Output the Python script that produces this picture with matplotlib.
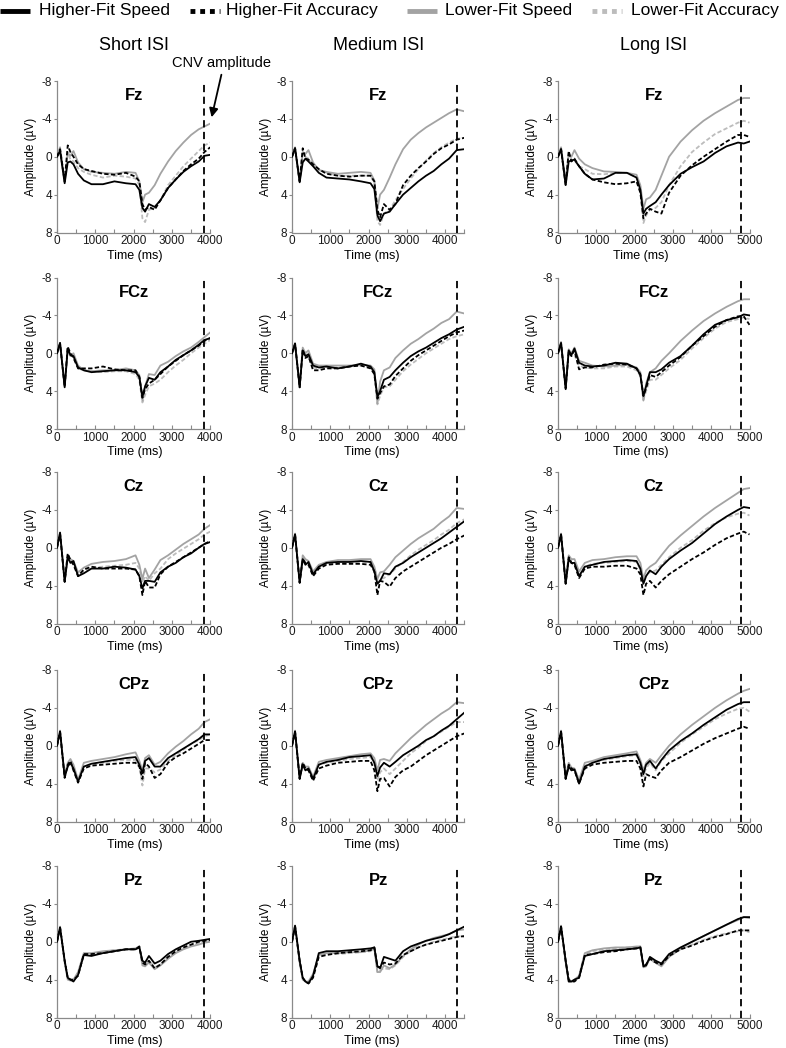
import matplotlib
matplotlib.use('Agg')
import matplotlib.pyplot as plt
from matplotlib.lines import Line2D
from matplotlib.ticker import MultipleLocator

plt.rcParams['font.family'] = ['Liberation Sans', 'DejaVu Sans']
plt.rcParams['axes.unicode_minus'] = False

# ---------------- data ----------------
columns = ['Short ISI', 'Medium ISI', 'Long ISI']
electrodes = ['Fz', 'FCz', 'Cz', 'CPz', 'Pz']
series_names = ['Higher-Fit Speed', 'Higher-Fit Accuracy', 'Lower-Fit Speed', 'Lower-Fit Accuracy']
x_ticks_max = [4000, 4000, 5000]
x_limits = [4000, 4500, 5000]
cnv_time = [3830, 4300, 4780]

t_short = [0, 80, 200, 280, 350, 430, 550, 700, 900, 1200, 1500, 1800, 2050, 2150, 2230, 2300, 2400,
           2550, 2700, 2900, 3100, 3300, 3500, 3700, 3850, 4000]
t_medium = [0, 80, 200, 280, 350, 430, 550, 700, 900, 1200, 1500, 1800, 2050, 2150, 2230, 2300, 2400,
            2550, 2700, 2900, 3100, 3300, 3500, 3700, 3900, 4100, 4300, 4500]
t_long = [0, 80, 200, 280, 350, 430, 550, 700, 900, 1200, 1500, 1800, 2050, 2150, 2230, 2300, 2400,
          2550, 2700, 2900, 3200, 3500, 3800, 4100, 4400, 4700, 4850, 5000]

# Fz
fz_short_hs = [0, -0.6, 2.8, 0.6, 0.5, 0.8, 1.8, 2.5, 2.9, 2.9, 2.6, 2.8, 2.9, 3.5, 5.4, 5.8, 5.0, 5.3, 4.6, 3.3, 2.4, 1.6, 1.0, 0.5, -0.1, -0.2]
fz_short_ha = [0, -0.8, 2.6, -1.2, -0.5, 0.0, 0.8, 1.3, 1.5, 1.8, 1.9, 1.7, 2.1, 2.6, 5.0, 5.6, 5.3, 5.6, 4.6, 3.3, 2.4, 1.5, 0.8, 0.2, -0.5, -1.0]
fz_short_ls = [0, -1.0, 2.6, -0.4, -0.1, -0.6, 0.6, 1.3, 1.6, 1.7, 1.8, 1.6, 1.7, 2.6, 4.8, 4.0, 3.8, 3.0, 1.8, 0.5, -0.6, -1.5, -2.3, -2.9, -3.2, -3.5]
fz_short_la = [0, -0.8, 2.6, -0.5, 0.3, 0.5, 1.2, 1.6, 1.9, 2.2, 2.0, 2.1, 2.3, 3.0, 6.5, 6.9, 5.6, 5.4, 4.6, 3.0, 2.0, 1.0, 0.2, -0.6, -1.2, -1.5]
fz_medium_hs = [0, -0.9, 2.7, 0.6, 0.2, 0.5, 1.0, 1.7, 2.2, 2.3, 2.4, 2.6, 2.8, 3.4, 6.2, 6.8, 6.0, 5.8, 5.0, 4.0, 3.3, 2.6, 2.0, 1.5, 0.8, 0.2, -0.7, -0.8]
fz_medium_ha = [0, -0.9, 2.6, -0.9, 0.2, 0.3, 0.8, 1.3, 1.8, 2.0, 2.1, 2.0, 2.0, 2.6, 5.6, 6.4, 5.0, 5.6, 5.0, 3.0, 2.0, 1.2, 0.5, -0.3, -0.9, -1.3, -1.8, -2.0]
fz_medium_ls = [0, -1.0, 2.6, -0.5, -0.3, -0.7, 0.6, 1.4, 1.6, 1.8, 1.7, 1.6, 1.7, 2.5, 5.5, 4.0, 3.5, 2.2, 0.8, -0.8, -1.8, -2.5, -3.1, -3.6, -4.1, -4.6, -5.0, -4.8]
fz_medium_la = [0, -0.8, 2.6, -0.4, 0.0, 0.2, 0.8, 1.4, 1.7, 2.0, 2.0, 2.0, 2.0, 2.8, 6.8, 7.2, 6.0, 5.6, 4.6, 3.4, 2.3, 1.3, 0.4, -0.4, -1.0, -1.5, -1.9, -2.0]
fz_long_hs = [0, -0.8, 3.0, 0.5, 0.4, 0.3, 1.0, 1.8, 2.4, 2.3, 1.7, 1.7, 2.2, 3.5, 6.0, 5.5, 5.2, 4.8, 4.0, 3.0, 1.8, 1.1, 0.5, -0.4, -1.1, -1.5, -1.4, -1.6]
fz_long_ha = [0, -0.8, 3.0, -0.6, 0.5, 0.2, 1.0, 1.8, 2.4, 2.7, 2.9, 2.8, 2.6, 3.8, 6.5, 6.0, 5.5, 5.8, 6.0, 3.8, 2.0, 0.9, 0.0, -0.8, -1.6, -2.3, -2.3, -2.1]
fz_long_ls = [0, -1.0, 2.6, -0.3, 0.0, -0.7, 0.2, 0.8, 1.2, 1.55, 1.6, 1.7, 1.9, 3.0, 5.5, 4.5, 4.3, 3.5, 2.0, 0.0, -1.6, -2.8, -3.8, -4.6, -5.3, -6.0, -6.2, -6.2]
fz_long_la = [0, -0.8, 2.6, -0.4, 0.3, 0.4, 1.0, 1.3, 1.8, 1.85, 1.7, 1.7, 2.2, 3.2, 7.0, 6.2, 5.6, 5.4, 4.8, 3.0, 1.0, -0.5, -1.5, -2.4, -3.0, -3.6, -3.8, -3.6]

# FCz
fcz_short_hs = [0, -1.1, 3.6, -0.5, 0.2, 0.3, 1.5, 1.8, 2.0, 1.9, 1.8, 1.8, 2.0, 2.5, 4.6, 3.5, 2.6, 2.8, 2.0, 1.4, 0.7, 0.2, -0.3, -0.9, -1.4, -1.6]
fcz_short_ha = [0, -1.0, 3.5, -0.7, 0.0, 0.5, 1.6, 1.6, 1.6, 1.4, 1.7, 1.8, 1.8, 2.5, 4.7, 3.8, 3.2, 2.8, 2.2, 1.4, 0.8, 0.2, -0.3, -0.8, -1.3, -1.6]
fcz_short_ls = [0, -1.1, 3.5, -0.5, 0.3, 0.0, 1.3, 1.8, 1.9, 1.8, 1.8, 1.6, 1.8, 2.3, 5.0, 3.5, 2.2, 2.3, 1.3, 0.9, 0.3, -0.2, -0.6, -1.2, -1.7, -2.2]
fcz_short_la = [0, -0.9, 3.4, -0.3, 0.2, 0.3, 1.6, 1.8, 1.9, 2.0, 1.9, 1.9, 2.2, 2.8, 5.2, 4.4, 3.5, 3.2, 2.8, 2.0, 1.3, 0.7, 0.0, -0.6, -1.0, -1.4]
fcz_medium_hs = [0, -1.0, 3.6, -0.3, 0.3, 0.1, 1.3, 1.5, 1.4, 1.6, 1.4, 1.1, 1.4, 2.0, 4.6, 4.0, 2.8, 2.5, 1.8, 1.0, 0.3, -0.2, -0.6, -1.1, -1.6, -2.0, -2.5, -2.8]
fcz_medium_ha = [0, -1.0, 3.6, -0.4, 0.5, 0.3, 1.8, 1.8, 1.6, 1.6, 1.4, 1.3, 1.6, 2.2, 4.8, 4.2, 3.5, 3.3, 2.4, 1.6, 0.8, 0.2, -0.3, -0.8, -1.3, -1.8, -2.2, -2.4]
fcz_medium_ls = [0, -1.1, 3.5, -0.6, 0.0, -0.3, 1.1, 1.3, 1.3, 1.3, 1.3, 1.2, 1.3, 1.7, 5.3, 3.0, 1.8, 1.5, 0.5, -0.3, -1.0, -1.5, -2.1, -2.6, -3.2, -3.6, -4.4, -4.2]
fcz_medium_la = [0, -0.9, 3.4, -0.4, 0.2, 0.5, 1.5, 1.6, 1.5, 1.5, 1.4, 1.3, 1.5, 2.2, 5.4, 4.5, 3.6, 3.5, 2.8, 1.9, 1.2, 0.6, 0.0, -0.5, -1.0, -1.5, -1.8, -2.0]
fcz_long_hs = [0, -1.1, 3.8, -0.3, 0.2, -0.5, 1.0, 1.3, 1.4, 1.3, 1.0, 1.1, 1.6, 2.3, 4.5, 3.5, 2.0, 2.0, 1.7, 1.0, 0.3, -0.8, -2.0, -3.0, -3.5, -3.8, -4.1, -4.0]
fcz_long_ha = [0, -1.0, 3.7, -0.2, 0.3, -0.3, 1.7, 1.5, 1.5, 1.2, 1.1, 1.2, 1.6, 2.2, 4.5, 3.7, 2.3, 2.5, 2.0, 1.3, 0.4, -0.8, -1.8, -2.8, -3.5, -3.9, -3.9, -3.0]
fcz_long_ls = [0, -1.2, 3.5, -0.4, 0.0, -0.6, 0.8, 1.0, 1.3, 1.4, 1.3, 1.2, 1.5, 2.0, 5.0, 3.2, 2.0, 1.6, 0.8, 0.0, -1.3, -2.4, -3.4, -4.2, -4.9, -5.5, -5.7, -5.7]
fcz_long_la = [0, -1.0, 3.5, -0.4, 0.3, 0.2, 1.3, 1.5, 1.6, 1.6, 1.4, 1.4, 1.8, 2.4, 4.9, 4.0, 2.8, 2.8, 2.3, 1.6, 0.7, -0.5, -1.6, -2.6, -3.3, -3.6, -3.8, -3.6]

# Cz
cz_short_hs = [0, -1.6, 3.6, 1.0, 1.6, 1.4, 3.0, 2.7, 2.2, 2.2, 2.0, 2.1, 2.3, 3.0, 4.3, 3.5, 3.5, 3.6, 2.6, 2.0, 1.6, 1.0, 0.6, 0.0, -0.4, -0.6]
cz_short_ha = [0, -1.5, 3.6, 0.6, 1.3, 1.8, 3.0, 2.3, 2.0, 2.2, 2.2, 2.2, 2.3, 3.0, 5.0, 3.5, 4.2, 4.2, 2.8, 2.0, 1.5, 1.0, 0.5, 0.0, -0.4, -0.7]
cz_short_ls = [0, -1.6, 3.5, 0.8, 1.2, 1.4, 2.6, 2.1, 1.7, 1.5, 1.4, 1.2, 0.8, 1.8, 3.3, 2.2, 3.2, 2.3, 1.3, 0.8, 0.2, -0.4, -0.9, -1.4, -2.0, -2.4]
cz_short_la = [0, -1.5, 3.5, 0.8, 1.4, 1.6, 2.9, 2.5, 2.1, 2.0, 1.9, 1.8, 1.6, 2.2, 3.7, 3.0, 3.5, 2.7, 2.2, 1.2, 0.6, 0.1, -0.4, -0.9, -1.4, -1.7]
cz_medium_hs = [0, -1.4, 3.7, 1.2, 1.8, 1.5, 2.8, 2.0, 1.6, 1.5, 1.5, 1.4, 1.5, 2.5, 3.8, 3.5, 2.7, 2.8, 2.0, 1.6, 1.0, 0.5, 0.0, -0.5, -1.0, -1.6, -2.2, -2.8]
cz_medium_ha = [0, -1.4, 3.7, 1.2, 1.6, 1.8, 3.0, 2.2, 1.8, 1.7, 1.7, 1.7, 1.8, 2.5, 5.0, 3.5, 3.6, 4.1, 3.2, 2.5, 2.0, 1.5, 1.0, 0.5, 0.0, -0.4, -0.9, -1.3]
cz_medium_ls = [0, -1.5, 3.6, 0.8, 1.2, 1.4, 2.5, 1.8, 1.5, 1.3, 1.3, 1.2, 1.2, 2.0, 3.3, 2.6, 2.5, 1.8, 1.0, 0.3, -0.4, -1.0, -1.5, -2.0, -2.7, -3.3, -4.2, -4.1]
cz_medium_la = [0, -1.4, 3.6, 1.0, 1.5, 1.6, 2.8, 2.0, 1.7, 1.6, 1.6, 1.5, 1.5, 2.3, 3.9, 3.3, 3.2, 2.8, 2.2, 1.5, 0.8, 0.2, -0.3, -0.8, -1.4, -1.9, -2.6, -3.0]
cz_long_hs = [0, -1.4, 3.8, 1.2, 1.6, 1.6, 3.0, 2.0, 1.8, 1.5, 1.4, 1.3, 1.4, 2.2, 3.8, 3.0, 2.4, 2.8, 2.0, 1.2, 0.3, -0.5, -1.5, -2.5, -3.3, -4.0, -4.3, -4.2]
cz_long_ha = [0, -1.4, 3.8, 1.0, 1.6, 1.8, 3.2, 2.2, 2.0, 2.0, 1.9, 1.9, 2.2, 2.8, 5.0, 3.8, 3.5, 4.2, 3.5, 2.8, 2.0, 1.2, 0.5, -0.3, -1.0, -1.5, -1.7, -1.4]
cz_long_ls = [0, -1.5, 3.6, 0.8, 1.2, 1.2, 2.5, 1.6, 1.3, 1.2, 1.0, 0.9, 0.9, 1.6, 3.3, 2.4, 2.0, 1.6, 0.8, -0.2, -1.3, -2.3, -3.3, -4.2, -5.0, -5.8, -6.2, -6.3]
cz_long_la = [0, -1.4, 3.6, 1.0, 1.4, 1.6, 2.9, 2.0, 1.7, 1.6, 1.5, 1.4, 1.5, 2.3, 3.6, 2.8, 2.6, 2.4, 1.8, 1.0, 0.0, -0.8, -1.8, -2.6, -3.2, -3.6, -3.7, -3.4]

# CPz
cpz_short_hs = [0, -1.5, 3.3, 2.2, 1.8, 2.4, 3.8, 2.2, 1.9, 1.7, 1.5, 1.3, 1.2, 2.0, 2.9, 1.6, 1.3, 2.2, 2.2, 1.3, 0.8, 0.3, -0.2, -0.7, -1.2, -1.2]
cpz_short_ha = [0, -1.5, 3.4, 2.0, 1.6, 2.6, 3.9, 2.4, 2.1, 2.0, 1.9, 1.8, 1.8, 2.2, 3.5, 1.8, 2.2, 3.4, 3.0, 1.8, 1.2, 0.8, 0.3, -0.2, -0.6, -0.6]
cpz_short_ls = [0, -1.6, 3.2, 1.8, 1.4, 2.0, 3.6, 1.8, 1.6, 1.4, 1.2, 0.9, 0.7, 1.6, 2.6, 1.3, 1.0, 2.0, 1.7, 0.8, 0.1, -0.5, -1.2, -1.8, -2.5, -2.8]
cpz_short_la = [0, -1.5, 3.3, 2.2, 1.8, 2.6, 3.7, 2.2, 2.0, 1.8, 1.6, 1.5, 1.5, 2.2, 4.2, 2.4, 2.4, 2.8, 2.5, 1.6, 1.0, 0.4, -0.2, -0.6, -1.0, -1.2]
cpz_medium_hs = [0, -1.5, 3.5, 2.0, 2.6, 2.4, 3.5, 2.0, 1.7, 1.5, 1.2, 1.1, 1.0, 1.8, 3.2, 2.3, 1.8, 2.2, 1.7, 1.0, 0.5, 0.0, -0.6, -1.0, -1.6, -2.1, -2.8, -3.5]
cpz_medium_ha = [0, -1.5, 3.5, 1.8, 2.4, 2.6, 3.7, 2.4, 2.1, 1.8, 1.7, 1.6, 1.6, 2.6, 4.8, 3.5, 3.4, 4.3, 3.3, 2.6, 2.2, 1.6, 1.0, 0.5, 0.0, -0.5, -1.0, -1.3]
cpz_medium_ls = [0, -1.6, 3.4, 1.8, 2.2, 2.2, 3.3, 1.7, 1.5, 1.3, 1.1, 0.9, 0.8, 1.3, 2.6, 1.5, 1.4, 1.6, 0.8, 0.0, -0.8, -1.5, -2.2, -2.8, -3.4, -3.9, -4.6, -4.5]
cpz_medium_la = [0, -1.5, 3.4, 2.0, 2.4, 2.4, 3.5, 2.0, 1.8, 1.6, 1.4, 1.3, 1.2, 1.8, 3.7, 2.8, 2.4, 3.0, 2.4, 1.6, 0.8, 0.2, -0.5, -1.0, -1.5, -2.0, -2.5, -2.5]
cpz_long_hs = [0, -1.5, 3.5, 2.2, 2.6, 2.5, 4.0, 2.2, 1.8, 1.4, 1.2, 1.0, 0.9, 1.8, 3.0, 2.0, 1.6, 2.4, 1.5, 0.5, -0.5, -1.3, -2.2, -3.0, -3.8, -4.4, -4.6, -4.6]
cpz_long_ha = [0, -1.5, 3.5, 2.0, 2.4, 2.6, 4.0, 2.4, 2.0, 1.8, 1.7, 1.6, 1.6, 2.4, 4.3, 3.0, 3.2, 3.4, 2.6, 1.8, 1.2, 0.5, -0.2, -0.8, -1.3, -1.8, -2.0, -1.8]
cpz_long_ls = [0, -1.6, 3.3, 1.8, 2.3, 2.4, 3.6, 1.8, 1.6, 1.2, 1.0, 0.8, 0.6, 1.5, 2.6, 1.8, 1.4, 1.8, 1.0, 0.0, -1.2, -2.2, -3.1, -4.0, -4.8, -5.5, -5.8, -6.0]
cpz_long_la = [0, -1.5, 3.4, 2.0, 2.5, 2.5, 3.9, 2.1, 1.8, 1.5, 1.3, 1.1, 1.0, 1.8, 3.2, 2.4, 1.8, 2.6, 1.6, 0.8, -0.3, -1.2, -2.0, -2.8, -3.4, -3.9, -4.0, -3.6]

# Pz
pz_short_hs = [0, -1.5, 2.0, 3.8, 4.0, 4.2, 3.5, 1.4, 1.5, 1.2, 1.0, 0.8, 0.8, 0.6, 2.0, 2.2, 1.5, 2.3, 2.0, 1.3, 0.8, 0.4, 0.0, -0.1, -0.2, -0.3]
pz_short_ha = [0, -1.5, 2.0, 3.8, 4.0, 4.0, 3.6, 1.3, 1.3, 1.2, 1.0, 0.8, 0.8, 0.5, 2.2, 2.4, 2.0, 2.8, 2.4, 1.6, 1.0, 0.6, 0.3, 0.0, -0.1, -0.2]
pz_short_ls = [0, -1.6, 2.2, 4.0, 4.1, 4.0, 3.2, 1.2, 1.2, 1.0, 0.9, 0.8, 0.7, 0.5, 2.5, 2.6, 2.2, 2.9, 2.5, 1.8, 1.2, 0.8, 0.5, 0.3, 0.1, 0.0]
pz_short_la = [0, -1.5, 2.0, 3.9, 4.0, 4.1, 3.4, 1.3, 1.3, 1.1, 0.9, 0.8, 0.8, 0.5, 2.3, 2.5, 2.0, 2.7, 2.4, 1.6, 1.1, 0.7, 0.4, 0.2, 0.0, -0.1]
pz_medium_hs = [0, -1.7, 2.0, 3.8, 4.2, 4.4, 3.6, 1.2, 1.0, 1.0, 0.9, 0.8, 0.7, 0.6, 2.6, 2.8, 1.6, 1.8, 2.0, 1.0, 0.5, 0.2, -0.1, -0.3, -0.5, -0.8, -1.2, -1.6]
pz_medium_ha = [0, -1.6, 2.0, 3.8, 4.2, 4.4, 3.8, 1.6, 1.4, 1.2, 1.1, 1.0, 0.9, 0.6, 2.6, 2.7, 2.2, 2.4, 2.3, 1.4, 1.0, 0.6, 0.3, 0.1, -0.1, -0.3, -0.5, -0.6]
pz_medium_ls = [0, -1.7, 2.2, 4.0, 4.2, 4.2, 3.4, 1.4, 1.2, 1.2, 1.1, 1.1, 0.9, 0.7, 3.2, 3.2, 2.5, 2.8, 2.4, 1.5, 0.8, 0.3, -0.1, -0.4, -0.6, -0.8, -1.2, -1.3]
pz_medium_la = [0, -1.6, 2.1, 3.9, 4.2, 4.3, 3.6, 1.5, 1.3, 1.3, 1.2, 1.1, 1.0, 0.7, 3.2, 3.0, 2.8, 2.9, 2.5, 1.6, 1.0, 0.6, 0.3, 0.0, -0.2, -0.4, -0.6, -0.5]
pz_long_hs = [0, -1.6, 2.0, 4.2, 4.2, 4.0, 3.8, 1.5, 1.3, 1.0, 0.9, 0.8, 0.7, 0.6, 2.6, 2.5, 1.6, 2.0, 2.3, 1.3, 0.6, 0.0, -0.6, -1.2, -1.8, -2.4, -2.6, -2.6]
pz_long_ha = [0, -1.6, 2.0, 4.0, 4.2, 4.2, 3.8, 1.4, 1.3, 1.1, 1.0, 0.8, 0.7, 0.6, 2.5, 2.4, 1.8, 2.2, 2.4, 1.5, 0.8, 0.4, -0.1, -0.5, -0.8, -1.2, -1.2, -1.2]
pz_long_ls = [0, -1.7, 2.2, 4.2, 4.2, 4.0, 3.6, 1.2, 0.9, 0.7, 0.6, 0.6, 0.5, 0.5, 2.7, 2.6, 1.7, 2.2, 2.6, 1.6, 0.7, 0.0, -0.6, -1.2, -1.8, -2.3, -2.6, -2.5]
pz_long_la = [0, -1.6, 2.1, 4.1, 4.2, 4.1, 3.7, 1.3, 1.0, 0.8, 0.7, 0.6, 0.6, 0.5, 2.6, 2.5, 1.8, 2.3, 2.5, 1.6, 0.8, 0.3, -0.2, -0.6, -0.9, -1.1, -1.2, -1.0]

times = [t_short, t_medium, t_long]
data = {
    'Fz':  [[fz_short_hs, fz_short_ha, fz_short_ls, fz_short_la],
            [fz_medium_hs, fz_medium_ha, fz_medium_ls, fz_medium_la],
            [fz_long_hs, fz_long_ha, fz_long_ls, fz_long_la]],
    'FCz': [[fcz_short_hs, fcz_short_ha, fcz_short_ls, fcz_short_la],
            [fcz_medium_hs, fcz_medium_ha, fcz_medium_ls, fcz_medium_la],
            [fcz_long_hs, fcz_long_ha, fcz_long_ls, fcz_long_la]],
    'Cz':  [[cz_short_hs, cz_short_ha, cz_short_ls, cz_short_la],
            [cz_medium_hs, cz_medium_ha, cz_medium_ls, cz_medium_la],
            [cz_long_hs, cz_long_ha, cz_long_ls, cz_long_la]],
    'CPz': [[cpz_short_hs, cpz_short_ha, cpz_short_ls, cpz_short_la],
            [cpz_medium_hs, cpz_medium_ha, cpz_medium_ls, cpz_medium_la],
            [cpz_long_hs, cpz_long_ha, cpz_long_ls, cpz_long_la]],
    'Pz':  [[pz_short_hs, pz_short_ha, pz_short_ls, pz_short_la],
            [pz_medium_hs, pz_medium_ha, pz_medium_ls, pz_medium_la],
            [pz_long_hs, pz_long_ha, pz_long_ls, pz_long_la]],
}

# ---------------- styles / layout ----------------
W, H = 786, 1048
fig = plt.figure(figsize=(W / 100, H / 100), dpi=100)

DASH = (0, (2.4, 1.3))
colors = ['black', 'black', '#a3a3a3', '#bcbcbc']
linestyles = ['-', DASH, '-', DASH]
zorders = [4, 3, 2, 1]
draw_order = [3, 2, 1, 0]

col_left_px = [57, 292, 558]
px_per_ms = 38.3 / 1000.0
row_top_px = [81, 277.5, 472, 670, 866]
row_h_px = 151.5
xlabel_center_px = [135, 372, 641]
spine_col = '#8a8a8a'

for r, el in enumerate(electrodes):
    for c in range(3):
        wpx = x_limits[c] * px_per_ms
        left = col_left_px[c] / W
        bottom = 1 - (row_top_px[r] + row_h_px) / H
        ax = fig.add_axes([left, bottom, wpx / W, row_h_px / H])
        for k in draw_order:
            ax.plot(times[c], data[el][c][k], color=colors[k], ls=linestyles[k], lw=1.3,
                    zorder=zorders[k])
        ax.axvline(cnv_time[c], color='black', lw=1.3, ls=(0, (4, 2.5)), zorder=5)
        ax.set_xlim(0, x_limits[c])
        ax.set_ylim(8, -8)
        ax.set_yticks([-8, -4, 0, 4, 8])
        ax.set_xticks(list(range(0, x_ticks_max[c] + 1, 1000)))
        ax.xaxis.set_minor_locator(MultipleLocator(500))
        for s in ['top', 'right']:
            ax.spines[s].set_visible(False)
        for s in ['left', 'bottom']:
            ax.spines[s].set_color(spine_col)
            ax.spines[s].set_linewidth(0.9)
        ax.tick_params(axis='both', which='both', labelsize=8.5, colors=spine_col,
                       labelcolor='#1a1a1a', width=0.8)
        ax.tick_params(axis='x', which='major', direction='in', length=3, pad=2)
        ax.tick_params(axis='x', which='minor', direction='in', length=3)
        ax.tick_params(axis='y', which='major', direction='out', length=2, pad=1.5)
        ax.text(0.5, 1 - 14.5 / row_h_px, el, transform=ax.transAxes, ha='center', va='center',
                fontsize=12, fontweight='bold')
        ax.set_ylabel('Amplitude (µV)', fontsize=8.5)
        ax.yaxis.set_label_coords(-20 / wpx, 0.5)
        ax.set_xlabel('Time (ms)', fontsize=9)
        ax.xaxis.set_label_coords((xlabel_center_px[c] - col_left_px[c]) / wpx, -17.5 / row_h_px)

# column titles
for c, name in enumerate(columns):
    cx = col_left_px[c] + 0.5 * x_limits[c] * px_per_ms
    fig.text(cx / W, 1 - 45 / H, name, ha='center', va='center', fontsize=13)

# CNV amplitude annotation
fig.text(221 / W, 1 - 63 / H, 'CNV amplitude', ha='center', va='center', fontsize=10.5)
fig.add_artist(matplotlib.patches.FancyArrowPatch(
    (222 / W, 1 - 72 / H), (211 / W, 1 - 120 / H), transform=fig.transFigure,
    arrowstyle='-|>', mutation_scale=13, color='black', lw=1.3))

# legend (manual, figure pixel layout)
legend_handle_px = [(0, 30), (190, 220), (407, 437), (592, 622)]
legend_text_px = [39, 226, 445, 631]
legend_y = 1 - 11 / H
handle_styles = ['-', (0, (1, 1)), '-', (0, (1, 1))]
for k in range(4):
    x0, x1 = legend_handle_px[k]
    fig.add_artist(Line2D([x0 / W, x1 / W], [legend_y, legend_y], transform=fig.transFigure,
                          color=colors[k], lw=3.5, ls=handle_styles[k], solid_capstyle='butt'))
    fig.text(legend_text_px[k] / W, legend_y, series_names[k], ha='left', va='center',
             fontsize=12.5)

fig.savefig('out.png', dpi=100)
